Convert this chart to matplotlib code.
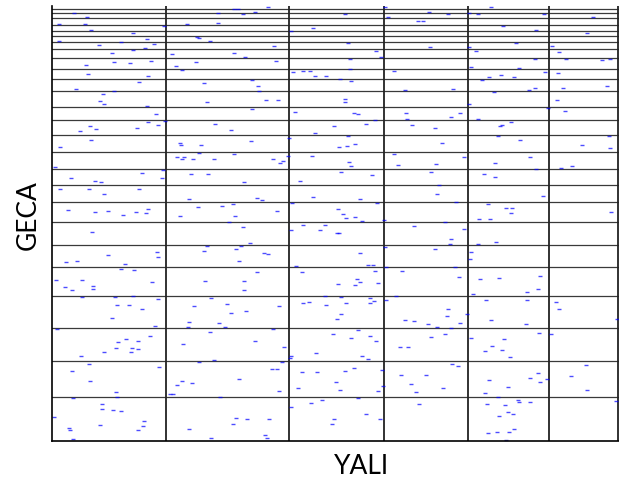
import numpy as np
import matplotlib.pyplot as plt

# chromosome / contig ends (cumulative, arbitrary genome units)
yali_bounds = [114, 237, 332, 416, 497, 566]
geca_bounds = [44, 80, 113, 145, 174, 196, 219, 239, 256, 272, 289, 306, 321,
               334, 350, 362, 372, 383, 392, 399, 405, 410, 416.5, 423, 428, 432]

# hit positions
hit_x = [182, 166, 22, 35, 7, 33, 112, 135, 166, 39, 81, 145, 147, 95, 7, 69, 158, 102, 47, 93,
         81, 60, 120, 182, 62, 78, 99, 144, 34, 124, 130, 36, 96, 87, 152, 24, 62, 51, 48, 52,
         155, 95, 104, 96, 106, 113, 38, 44, 85, 163, 28, 179, 39, 8, 128, 129, 149, 147, 125, 132,
         130, 141, 162, 182, 186,
         216, 191, 203, 293, 333, 336, 377, 366, 371, 261, 239, 222, 296, 378, 193, 324, 329, 298, 224, 241,
         251, 258, 298, 342, 263, 274, 200, 288, 299, 206, 207, 353, 214, 226, 293, 293, 200, 243, 302, 306,
         354, 355, 323, 314, 360, 383, 282, 263, 237, 296, 199, 303, 287, 295, 236, 260, 221, 342,
         439, 396, 417, 426, 492, 541, 451, 484, 535, 464, 417, 500, 424, 507, 483, 514, 550, 558, 419, 467,
         493, 506, 449, 437, 462, 430, 401, 442, 477, 483, 511, 555, 505, 417, 496, 513, 408, 399, 426, 459,
         450, 448, 446, 557, 468, 390, 530, 558, 412, 478,
         3, 111, 90, 19, 43, 49, 110, 139, 156, 8, 37, 87, 52, 137, 16, 43, 56, 71, 84, 94,
         96, 146, 170, 181, 128, 183, 177, 40, 105, 155, 152, 184, 187, 56, 106, 14, 25, 73, 69, 82,
         100, 153, 4, 30, 41, 13, 20, 41, 30, 63, 81, 106, 159, 65, 77, 90, 142, 175,
         179, 60, 137, 167, 173, 136, 103, 5, 158, 98, 66, 74, 86, 131, 64, 80, 86, 52, 79, 29,
         37, 107, 147, 162, 20, 38, 187, 125, 130, 140, 64, 65, 21, 118, 121, 168, 50, 50, 61, 69,
         2, 92, 48, 91, 184, 181, 17, 18, 86, 137, 21, 159,
         228, 231, 297, 299, 346, 384, 289, 320, 379, 192, 248, 387, 205, 210, 261, 308, 325, 240, 385, 225,
         286, 291, 294, 303, 310, 332, 191, 251, 268, 273, 285, 287, 239, 362, 198, 189, 212, 216, 333, 383,
         308, 316, 321, 323, 334, 244, 350, 205, 250, 192, 305, 308, 286, 303, 326, 192, 273, 289, 318, 344,
         334, 227, 251, 257, 274, 294, 318, 322,
         443, 484, 509, 520, 432, 443, 491, 404, 436, 454, 460, 459, 427, 438, 393, 559, 412, 399, 398, 426,
         444, 419, 418, 403, 407, 428, 447, 488, 486, 421, 475, 434, 475, 504, 507, 396,
         194, 289, 285, 353, 362, 221, 306, 281, 318, 299, 324, 203, 232, 348, 356, 264, 239, 238, 310, 316,
         230, 220, 225, 250, 265, 293, 302, 330, 349, 284, 359, 246, 288, 326, 331, 364, 227, 306, 259, 270,
         239, 367, 314, 328, 282, 280, 195, 217, 213, 215,
         395, 415, 408, 385, 399, 439, 474, 565, 393, 379, 419, 452, 487, 499, 440, 433, 450, 458, 400, 406,
         437, 478, 486, 495, 488, 456, 391, 433, 446, 466, 467, 478, 435, 453, 456, 461, 447, 462, 457, 445,
         436, 454, 534, 519, 535, 564,
         376, 374]
hit_y = [432, 428, 428, 424, 417, 417, 415, 417, 418, 411, 408, 404, 403, 402, 400, 399, 400, 397, 396, 393,
         391, 388, 387, 388, 379, 378, 380, 379, 376, 375, 371, 367, 365, 359, 358, 352, 350, 347, 340, 337,
         339, 335, 327, 319, 316, 320, 315, 312, 313, 317, 310, 311, 301, 294, 298, 296, 296, 288, 284, 284,
         282, 282, 282, 287, 432,
         434, 427, 429, 427, 434, 424, 429, 420, 420, 413, 410, 395, 398, 394, 384, 390, 384, 382, 380, 369,
         370, 370, 372, 370, 365, 365, 361, 362, 360, 355, 350, 351, 341, 341, 342, 339, 332, 329, 328, 327,
         328, 322, 321, 317, 316, 313, 315, 308, 303, 305, 300, 297, 294, 295, 285, 285, 282, 287,
         434, 427, 428, 427, 427, 424, 415, 411, 408, 398, 394, 395, 390, 389, 382, 382, 381, 382, 374, 373,
         369, 368, 366, 364, 364, 361, 352, 349, 351, 353, 353, 355, 341, 337, 333, 330, 328, 324, 322, 319,
         316, 315, 305, 305, 301, 298, 296, 293, 284, 284,
         274, 271, 268, 263, 260, 259, 263, 267, 267, 252, 252, 252, 247, 242, 231, 229, 230, 226, 229, 228,
         232, 234, 235, 237, 225, 225, 219, 209, 189, 195, 190, 192, 180, 186, 184, 179, 180, 177, 172, 171,
         159, 160, 161, 161, 155, 154, 151, 152, 144, 144, 145, 142, 143, 136, 136, 132, 135, 137,
         128, 123, 119, 118, 114, 114, 115, 112, 109, 105, 99, 102, 100, 97, 93, 93, 92, 89, 89, 85,
         77, 74, 79, 81, 70, 60, 62, 56, 60, 58, 49, 44, 43, 47, 47, 44, 37, 32, 31, 30,
         24, 20, 16, 15, 23, 17, 13, 11, 11, 12, 2, 3,
         278, 280, 279, 275, 276, 277, 269, 266, 269, 259, 260, 256, 243, 241, 244, 242, 238, 238, 247, 230,
         232, 227, 223, 224, 220, 221, 214, 216, 211, 216, 208, 208, 211, 215, 198, 195, 188, 187, 194, 192,
         188, 176, 176, 170, 174, 175, 170, 169, 169, 160, 162, 159, 157, 156, 158, 151, 145, 144, 143, 145,
         141, 135, 138, 139, 136, 138, 138, 140,
         278, 272, 273, 275, 267, 264, 245, 239, 237, 233, 233, 228, 222, 222, 219, 229, 212, 202, 197, 197,
         199, 189, 182, 174, 164, 162, 163, 165, 152, 147, 149, 141, 141, 139, 132, 132,
         130, 127, 122, 121, 120, 112, 111, 107, 105, 103, 100, 100, 94, 94, 94, 88, 85, 83, 85, 82,
         79, 72, 72, 69, 69, 70, 73, 71, 66, 59, 57, 53, 51, 50, 55, 49, 50, 43, 38, 41,
         34, 37, 27, 22, 22, 17, 22, 22, 6, 3,
         125, 127, 118, 114, 113, 121, 117, 122, 107, 104, 103, 102, 108, 107, 95, 90, 91, 84, 77, 75,
         61, 63, 68, 62, 59, 54, 53, 48, 44, 41, 39, 39, 37, 36, 29, 27, 25, 12, 9, 9,
         8, 1, 76, 65, 51, 40,
         117, 66]

fig = plt.figure(figsize=(6.19, 4.82), dpi=100)
ax = fig.add_axes([52 / 619, 41 / 482, 567 / 619, 435 / 482])

for b in geca_bounds:
    ax.axhline(b, color='#3a3a3a', lw=0.9, zorder=1)
for b in yali_bounds:
    ax.axvline(b, color='#222222', lw=1.3, zorder=1)

ax.plot(hit_x, hit_y, '_', color='blue', ms=2.4, mew=1.0, alpha=0.7, zorder=2)

ax.set_xlim(0, 567)
ax.set_ylim(0, 435)
ax.spines['top'].set_visible(False)
ax.spines['right'].set_visible(False)
ax.spines['left'].set_linewidth(1.2)
ax.spines['bottom'].set_linewidth(1.2)
ax.set_xticks([])
ax.set_yticks([])

ax.set_xlabel('YALI', fontsize=19, family='Lato')
ax.xaxis.set_label_coords(0.545, -0.03)
ax.set_ylabel('GECA', fontsize=19, family='Lato')
ax.yaxis.set_label_coords(-0.02, 0.52)

fig.savefig('out.png', dpi=100)
